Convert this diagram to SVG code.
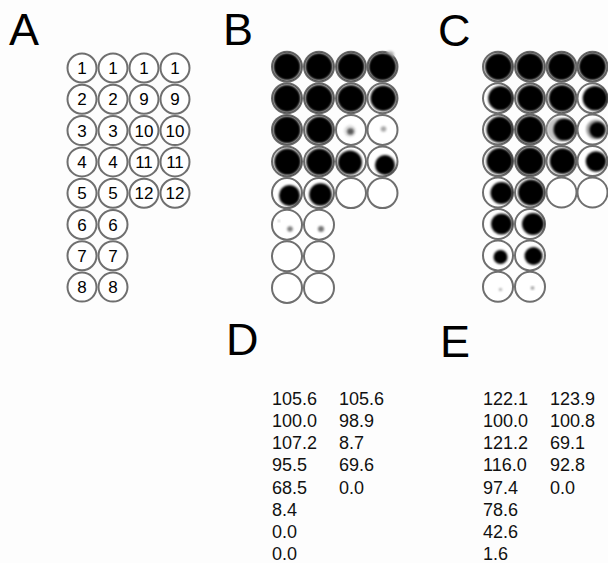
<svg xmlns="http://www.w3.org/2000/svg" width="608" height="563" viewBox="0 0 608 563">
<defs>
<style>
.bg{fill:#fdfdfd}
.ring{fill:#fff;stroke:#6f6f6f;stroke-width:2}
.blot{fill:#000;filter:url(#soft)}
.spot{filter:url(#soft)}
.lab{font-family:"Liberation Sans",Arial,Helvetica,sans-serif;font-size:45px;fill:#000}
.num{font-family:"Liberation Sans",Arial,Helvetica,sans-serif;font-size:17px;fill:#000;text-anchor:middle}
.val{font-family:"Liberation Sans",Arial,Helvetica,sans-serif;font-size:18px;fill:#111}
</style>
<filter id="soft" x="-30%" y="-30%" width="160%" height="160%"><feGaussianBlur stdDeviation="0.9"/></filter>
</defs>
<rect class="bg" x="0" y="0" width="608" height="563"/>

<!-- Panel letters -->
<g id="labels">
<text class="lab" x="9" y="45">A</text>
<text class="lab" x="223" y="45">B</text>
<text class="lab" x="438" y="46">C</text>
<text class="lab" x="226" y="355">D</text>
<text class="lab" x="440" y="357">E</text>
</g>

<!-- Panel A: numbered well map -->
<g id="panel-A">
<g id="A-r1c1"><circle class="ring" cx="82" cy="68" r="14.5"/><text class="num" x="82" y="74.1">1</text></g>
<g id="A-r1c2"><circle class="ring" cx="113" cy="68" r="14.5"/><text class="num" x="113" y="74.1">1</text></g>
<g id="A-r1c3"><circle class="ring" cx="144" cy="68" r="14.5"/><text class="num" x="144" y="74.1">1</text></g>
<g id="A-r1c4"><circle class="ring" cx="175" cy="68" r="14.5"/><text class="num" x="175" y="74.1">1</text></g>
<g id="A-r2c1"><circle class="ring" cx="82" cy="99.3" r="14.5"/><text class="num" x="82" y="105.4">2</text></g>
<g id="A-r2c2"><circle class="ring" cx="113" cy="99.3" r="14.5"/><text class="num" x="113" y="105.4">2</text></g>
<g id="A-r2c3"><circle class="ring" cx="144" cy="99.3" r="14.5"/><text class="num" x="144" y="105.4">9</text></g>
<g id="A-r2c4"><circle class="ring" cx="175" cy="99.3" r="14.5"/><text class="num" x="175" y="105.4">9</text></g>
<g id="A-r3c1"><circle class="ring" cx="82" cy="130.6" r="14.5"/><text class="num" x="82" y="136.7">3</text></g>
<g id="A-r3c2"><circle class="ring" cx="113" cy="130.6" r="14.5"/><text class="num" x="113" y="136.7">3</text></g>
<g id="A-r3c3"><circle class="ring" cx="144" cy="130.6" r="14.5"/><text class="num" x="144" y="136.7">10</text></g>
<g id="A-r3c4"><circle class="ring" cx="175" cy="130.6" r="14.5"/><text class="num" x="175" y="136.7">10</text></g>
<g id="A-r4c1"><circle class="ring" cx="82" cy="161.9" r="14.5"/><text class="num" x="82" y="168">4</text></g>
<g id="A-r4c2"><circle class="ring" cx="113" cy="161.9" r="14.5"/><text class="num" x="113" y="168">4</text></g>
<g id="A-r4c3"><circle class="ring" cx="144" cy="161.9" r="14.5"/><text class="num" x="144" y="168">11</text></g>
<g id="A-r4c4"><circle class="ring" cx="175" cy="161.9" r="14.5"/><text class="num" x="175" y="168">11</text></g>
<g id="A-r5c1"><circle class="ring" cx="82" cy="193.2" r="14.5"/><text class="num" x="82" y="199.3">5</text></g>
<g id="A-r5c2"><circle class="ring" cx="113" cy="193.2" r="14.5"/><text class="num" x="113" y="199.3">5</text></g>
<g id="A-r5c3"><circle class="ring" cx="144" cy="193.2" r="14.5"/><text class="num" x="144" y="199.3">12</text></g>
<g id="A-r5c4"><circle class="ring" cx="175" cy="193.2" r="14.5"/><text class="num" x="175" y="199.3">12</text></g>
<g id="A-r6c1"><circle class="ring" cx="82" cy="224.5" r="14.5"/><text class="num" x="82" y="230.6">6</text></g>
<g id="A-r6c2"><circle class="ring" cx="113" cy="224.5" r="14.5"/><text class="num" x="113" y="230.6">6</text></g>
<g id="A-r7c1"><circle class="ring" cx="82" cy="255.8" r="14.5"/><text class="num" x="82" y="261.9">7</text></g>
<g id="A-r7c2"><circle class="ring" cx="113" cy="255.8" r="14.5"/><text class="num" x="113" y="261.9">7</text></g>
<g id="A-r8c1"><circle class="ring" cx="82" cy="287.1" r="14.5"/><text class="num" x="82" y="293.2">8</text></g>
<g id="A-r8c2"><circle class="ring" cx="113" cy="287.1" r="14.5"/><text class="num" x="113" y="293.2">8</text></g>
</g>

<!-- Panel B: dot blot -->
<g id="panel-B">
<g id="B-r1c1"><circle class="ring" cx="287" cy="66.7" r="15"/><circle class="blot" cx="287" cy="66.7" r="13.6"/></g>
<g id="B-r1c2"><circle class="ring" cx="319" cy="66.7" r="15"/><circle class="blot" cx="319" cy="66.7" r="13.6"/></g>
<g id="B-r1c3"><circle class="ring" cx="351" cy="66.7" r="15"/><circle class="blot" cx="351" cy="66.7" r="13.6"/></g>
<g id="B-r1c4"><circle class="ring" cx="382.5" cy="66.7" r="15"/><circle class="spot" cx="390" cy="55" r="4" fill="#b5b5b5"/><circle class="blot" cx="382.5" cy="66.7" r="13.8"/></g>
<g id="B-r2c1"><circle class="ring" cx="287" cy="98.3" r="15"/><circle class="blot" cx="287" cy="98.3" r="13.6"/></g>
<g id="B-r2c2"><circle class="ring" cx="319" cy="98.3" r="15"/><circle class="blot" cx="319" cy="98.3" r="13.6"/></g>
<g id="B-r2c3"><circle class="ring" cx="351" cy="98.3" r="15"/><circle class="blot" cx="351" cy="98.3" r="13.4"/></g>
<g id="B-r2c4"><circle class="ring" cx="382.5" cy="98.3" r="15"/><circle class="blot" cx="383.3" cy="98.3" r="12.8"/></g>
<g id="B-r3c1"><circle class="ring" cx="287" cy="129.9" r="15"/><circle class="blot" cx="287" cy="129.9" r="13.6"/></g>
<g id="B-r3c2"><circle class="ring" cx="319" cy="129.9" r="15"/><circle class="blot" cx="319.5" cy="129.9" r="13.4"/></g>
<g id="B-r3c3"><circle class="ring" cx="351" cy="129.9" r="15"/><circle class="spot" cx="350" cy="131" r="6" fill="#d0d0d0" opacity="0.7"/><circle class="spot" cx="350.5" cy="131.5" r="3.3" fill="#5a5a5a"/></g>
<g id="B-r3c4"><circle class="ring" cx="382.5" cy="129.9" r="15"/><circle class="spot" cx="383.5" cy="129" r="2.8" fill="#a8a8a8"/></g>
<g id="B-r4c1"><circle class="ring" cx="287" cy="161.5" r="15"/><circle class="blot" cx="287.5" cy="161.8" r="13.3"/></g>
<g id="B-r4c2"><circle class="ring" cx="319" cy="161.5" r="15"/><circle class="blot" cx="319.5" cy="161.8" r="13.3"/></g>
<g id="B-r4c3"><circle class="ring" cx="351" cy="161.5" r="15"/><circle class="blot" cx="350" cy="162.5" r="12"/></g>
<g id="B-r4c4"><circle class="ring" cx="382.5" cy="161.5" r="15"/><circle class="blot" cx="385" cy="165" r="10"/></g>
<g id="B-r5c1"><circle class="ring" cx="287" cy="193.1" r="15"/><circle class="blot" cx="289.5" cy="195.5" r="10.5"/></g>
<g id="B-r5c2"><circle class="ring" cx="319" cy="193.1" r="15"/><circle class="blot" cx="320.5" cy="194.5" r="11.3"/></g>
<g id="B-r5c3"><circle class="ring" cx="351" cy="193.1" r="15"/></g>
<g id="B-r5c4"><circle class="ring" cx="382.5" cy="193.1" r="15"/></g>
<g id="B-r6c1"><circle class="ring" cx="287" cy="224.7" r="15"/><circle class="spot" cx="290" cy="229" r="2.8" fill="#808080"/><circle class="spot" cx="279" cy="221" r="1" fill="#aaa"/></g>
<g id="B-r6c2"><circle class="ring" cx="319" cy="224.7" r="15"/><circle class="spot" cx="321" cy="229" r="3" fill="#747474"/></g>
<g id="B-r7c1"><circle class="ring" cx="287" cy="256.3" r="15"/></g>
<g id="B-r7c2"><circle class="ring" cx="319" cy="256.3" r="15"/></g>
<g id="B-r8c1"><circle class="ring" cx="287" cy="287.9" r="15"/></g>
<g id="B-r8c2"><circle class="ring" cx="319" cy="287.9" r="15"/></g>
</g>

<!-- Panel C: dot blot -->
<g id="panel-C">
<g id="C-r1c1"><circle class="ring" cx="498" cy="66.7" r="15"/><circle class="blot" cx="498.5" cy="66.7" r="13.5"/></g>
<g id="C-r1c2"><circle class="ring" cx="530" cy="66.7" r="15"/><circle class="blot" cx="530" cy="66.7" r="13.6"/></g>
<g id="C-r1c3"><circle class="ring" cx="561.5" cy="66.7" r="15"/><circle class="blot" cx="561.5" cy="66.7" r="13.6"/></g>
<g id="C-r1c4"><circle class="ring" cx="592.5" cy="66.7" r="15"/><circle class="blot" cx="592.5" cy="66.7" r="13.6"/></g>
<g id="C-r2c1"><circle class="ring" cx="498" cy="98.2" r="15"/><circle class="blot" cx="500.5" cy="98.2" r="12.3"/></g>
<g id="C-r2c2"><circle class="ring" cx="530" cy="98.2" r="15"/><circle class="blot" cx="530.5" cy="98.2" r="13.3"/></g>
<g id="C-r2c3"><circle class="ring" cx="561.5" cy="98.2" r="15"/><circle class="blot" cx="562" cy="98.2" r="13.2"/></g>
<g id="C-r2c4"><circle class="ring" cx="592.5" cy="98.2" r="15"/><circle class="blot" cx="595" cy="98.2" r="12.3"/></g>
<g id="C-r3c1"><circle class="ring" cx="498" cy="129.6" r="15"/><circle class="blot" cx="499.5" cy="129.6" r="13"/></g>
<g id="C-r3c2"><circle class="ring" cx="530" cy="129.6" r="15"/><circle class="blot" cx="530" cy="129.6" r="13.6"/></g>
<g id="C-r3c3"><circle class="ring" cx="561.5" cy="129.6" r="15"/><circle class="spot" cx="559" cy="129.6" r="12" fill="#c4c4c4"/><circle class="blot" cx="564.5" cy="129.6" r="11"/></g>
<g id="C-r3c4"><circle class="ring" cx="592.5" cy="129.6" r="15"/><circle class="spot" cx="596" cy="129.6" r="10" fill="#a0a0a0"/><circle class="blot" cx="597.5" cy="130" r="8"/></g>
<g id="C-r4c1"><circle class="ring" cx="498" cy="161.1" r="15"/><circle class="blot" cx="499.5" cy="161.1" r="13"/></g>
<g id="C-r4c2"><circle class="ring" cx="530" cy="161.1" r="15"/><circle class="blot" cx="530" cy="161.1" r="13.6"/></g>
<g id="C-r4c3"><circle class="ring" cx="561.5" cy="161.1" r="15"/><circle class="blot" cx="562.5" cy="161.1" r="12.8"/></g>
<g id="C-r4c4"><circle class="ring" cx="592.5" cy="161.1" r="15"/><circle class="blot" cx="596" cy="161.5" r="10.3"/></g>
<g id="C-r5c1"><circle class="ring" cx="498" cy="192.5" r="15"/><circle class="blot" cx="501.5" cy="193" r="11"/></g>
<g id="C-r5c2"><circle class="ring" cx="530" cy="192.5" r="15"/><circle class="blot" cx="531" cy="192.5" r="13"/></g>
<g id="C-r5c3"><circle class="ring" cx="561.5" cy="192.5" r="15"/></g>
<g id="C-r5c4"><circle class="ring" cx="592.5" cy="192.5" r="15"/></g>
<g id="C-r6c1"><circle class="ring" cx="498" cy="224" r="15"/><circle class="blot" cx="501.5" cy="224" r="10.5"/></g>
<g id="C-r6c2"><circle class="ring" cx="530" cy="224" r="15"/><circle class="blot" cx="533" cy="224" r="11"/></g>
<g id="C-r7c1"><circle class="ring" cx="498" cy="255.4" r="15"/><circle class="blot" cx="500.5" cy="257" r="7"/></g>
<g id="C-r7c2"><circle class="ring" cx="530" cy="255.4" r="15"/><circle class="blot" cx="533.5" cy="256" r="9"/></g>
<g id="C-r8c1"><circle class="ring" cx="498" cy="286.8" r="15"/><circle class="spot" cx="500.5" cy="289.5" r="1.6" fill="#aaa"/></g>
<g id="C-r8c2"><circle class="ring" cx="530" cy="286.8" r="15"/><circle class="spot" cx="532.5" cy="288" r="1.8" fill="#999"/></g>
</g>

<!-- Panel D values -->
<g id="panel-D">
<text class="val" x="272" y="405">105.6</text>
<text class="val" x="272" y="427.1">100.0</text>
<text class="val" x="272" y="449.3">107.2</text>
<text class="val" x="272" y="471.4">95.5</text>
<text class="val" x="272" y="493.6">68.5</text>
<text class="val" x="272" y="515.7">8.4</text>
<text class="val" x="272" y="537.8">0.0</text>
<text class="val" x="272" y="560">0.0</text>
<text class="val" x="339" y="405">105.6</text>
<text class="val" x="339" y="427.1">98.9</text>
<text class="val" x="339" y="449.3">8.7</text>
<text class="val" x="339" y="471.4">69.6</text>
<text class="val" x="339" y="493.6">0.0</text>
</g>

<!-- Panel E values -->
<g id="panel-E">
<text class="val" x="483" y="405">122.1</text>
<text class="val" x="483" y="427.1">100.0</text>
<text class="val" x="483" y="449.3">121.2</text>
<text class="val" x="483" y="471.4">116.0</text>
<text class="val" x="483" y="493.6">97.4</text>
<text class="val" x="483" y="515.7">78.6</text>
<text class="val" x="483" y="537.8">42.6</text>
<text class="val" x="483" y="560">1.6</text>
<text class="val" x="550" y="405">123.9</text>
<text class="val" x="550" y="427.1">100.8</text>
<text class="val" x="550" y="449.3">69.1</text>
<text class="val" x="550" y="471.4">92.8</text>
<text class="val" x="550" y="493.6">0.0</text>
</g>
</svg>
